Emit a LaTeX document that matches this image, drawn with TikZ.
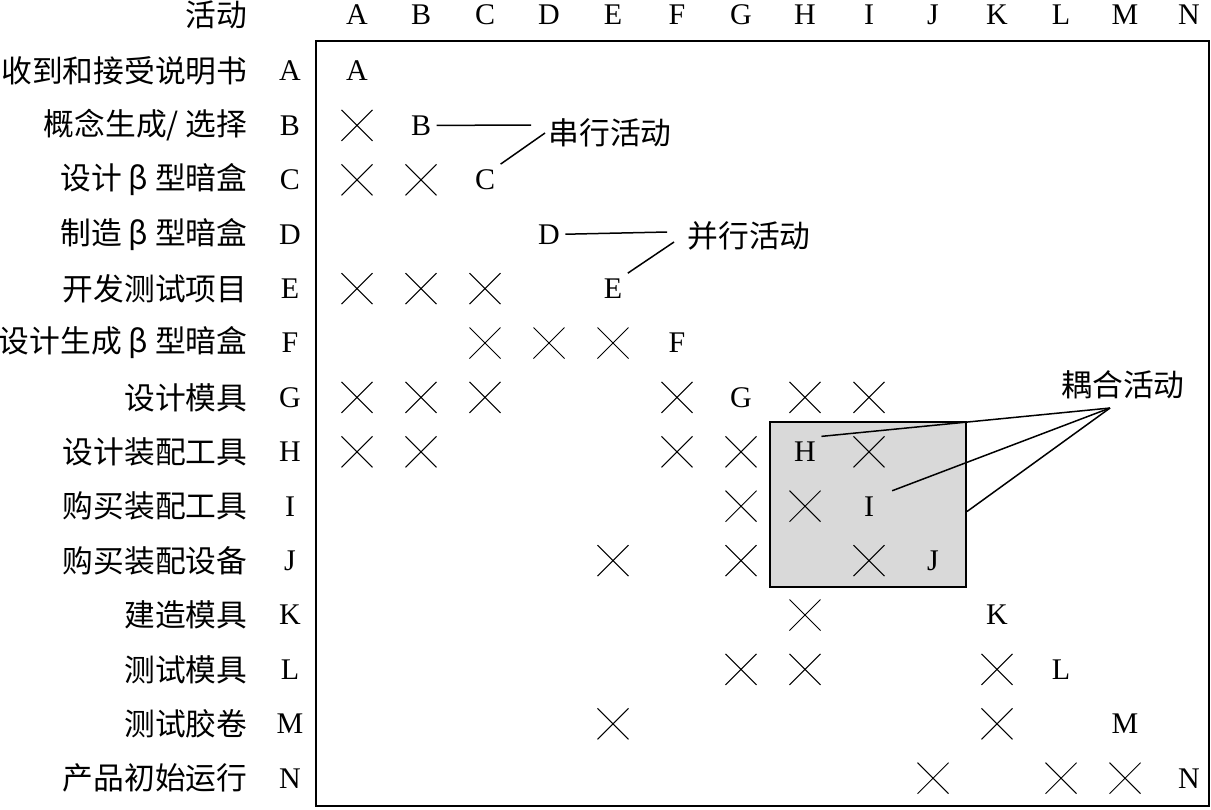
\documentclass[tikz,border=0pt]{standalone}
\usepackage{fontspec}
\setmainfont{Liberation Serif}
\newfontfamily\cjk{Noto Sans CJK SC}
\usetikzlibrary{shapes.misc}

\tikzset{
  lab/.style={font=\fontsize{12}{14}\selectfont,inner sep=2pt},
  cn/.style={font=\fontsize{12.3}{14}\selectfont\cjk,inner sep=2pt},
  xmark/.style={cross out,draw,minimum size=12pt,inner sep=0pt,line width=0.4pt},
  lead/.style={line width=0.6pt},
}

\begin{document}
\begin{tikzpicture}[x=0.4pt,y=-0.4pt,line width=0.5pt]
  \useasboundingbox (0,0) rectangle (1211,809);

  % coupled block, behind the marks
  \node[draw,fill=black!15,line width=0.8pt,minimum width=78.4pt,minimum height=66pt,inner sep=0pt] (cbox) at (868,504.5) {};
  % matrix frame
  \draw[line width=0.8pt] (316,41) rectangle (1209,806);

  % header, row letters and diagonal
  \node[cn,anchor=east] (hd) at (253,15) {活动};
  \foreach \c [count=\i from 0] in {A,B,C,D,E,F,G,H,I,J,K,L,M,N} {
    \node[lab] (c-\c) at (357+64*\i,15) {\c};
    \node[lab] (r-\c) at (290,71+54.4*\i) {\c};
    \node[lab] (d-\c) at (357+64*\i,71+54.4*\i) {\c};
  }

  % activity names
  \foreach \c/\t in {A/收到和接受说明书,B/{概念生成/ 选择},C/设计 β 型暗盒,D/制造 β 型暗盒,
      E/开发测试项目,F/设计生成 β 型暗盒,G/设计模具,H/设计装配工具,I/购买装配工具,
      J/购买装配设备,K/建造模具,L/测试模具,M/测试胶卷,N/产品初始运行} {
    \node[cn,anchor=east] (l-\c) at (253,0 |- r-\c) {\t};
  }

  % dependencies
  \foreach \r/\c in {B/A,C/A,C/B,E/A,E/B,E/C,F/C,F/D,F/E,G/A,G/B,G/C,G/F,G/H,G/I,
      H/A,H/B,H/F,H/G,H/I,I/G,I/H,J/E,J/G,J/I,K/H,L/G,L/H,L/K,M/E,M/K,N/J,N/L,N/M} {
    \node[xmark] (x-\r\c) at (c-\c |- r-\r) {};
  }

  % annotations
  \node[cn] (ser) at (610,133) {串行活动};
  \node[cn] (par) at (749,236) {并行活动};
  \node[cn] (cpl) at (1123,385) {耦合活动};
  \coordinate (ser-a) at (531,125);
  \coordinate (ser-b) at (545,133);
  \coordinate (par-a) at (667,232);
  \coordinate (par-b) at (674,242);
  \coordinate (cpl-j) at (1110,408);

  \draw[lead] (d-B.east) -- (ser-a);
  \draw[lead] (d-C.north east) -- (ser-b);
  \draw[lead] (d-D.east) -- (par-a);
  \draw[lead] (d-E.north east) -- (par-b);
  \draw[lead] (cpl-j) -- (d-H.north east);
  \draw[lead] (cpl-j) -- ([xshift=5pt]d-I.north east);
  \draw[lead] (cpl-j) -- ([yshift=-2.8pt]cbox.east);
\end{tikzpicture}
\end{document}
